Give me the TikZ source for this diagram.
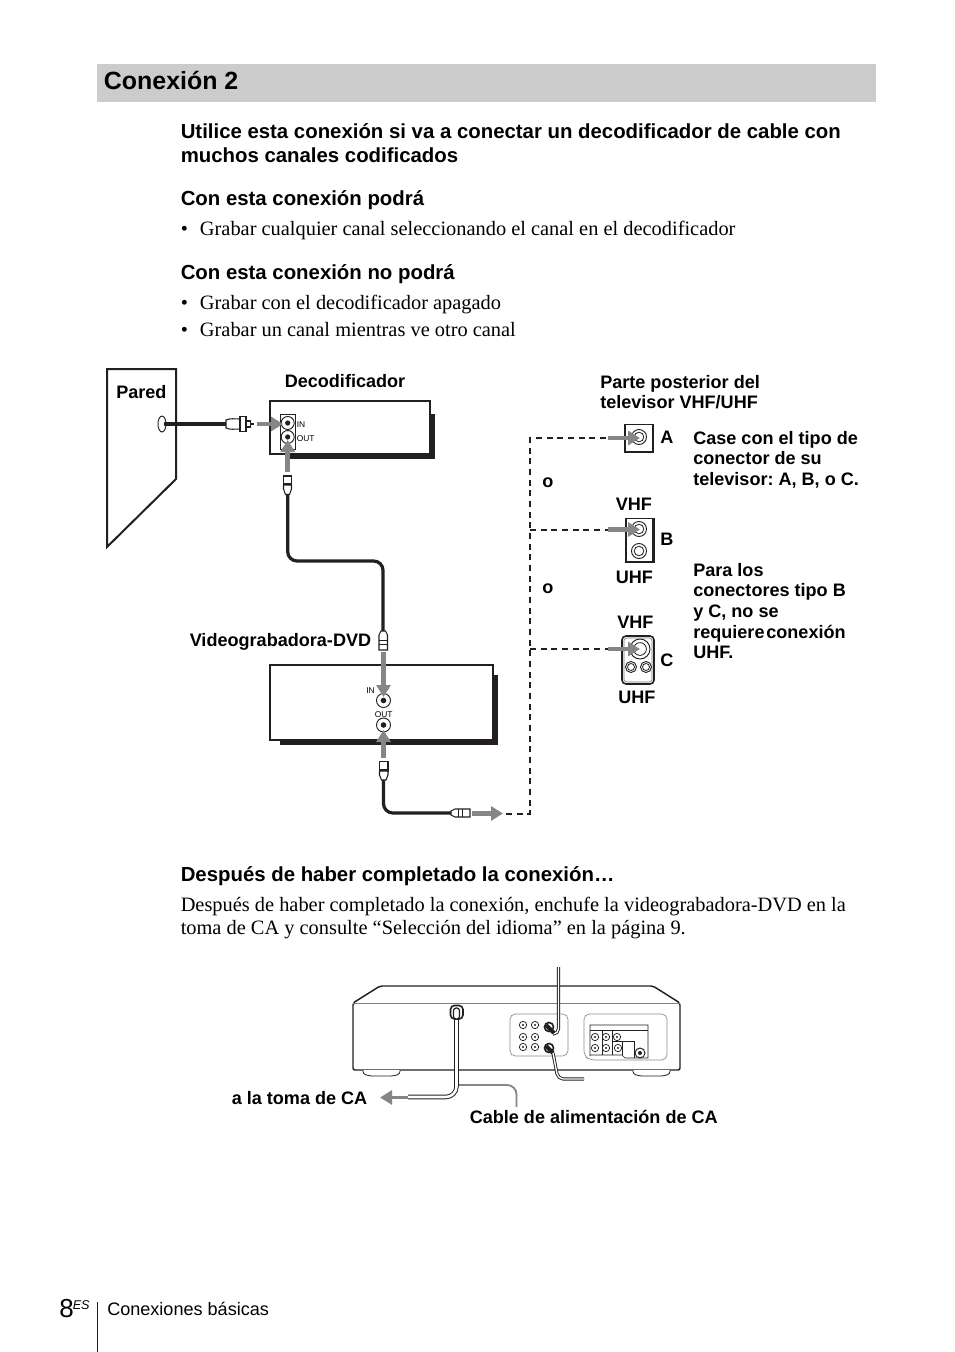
\documentclass[tikz,border=0pt]{standalone}
\usepackage{fontspec}
\setmainfont{Liberation Serif}
\setsansfont{Liberation Sans}
\usetikzlibrary{arrows.meta,shapes.geometric}
\definecolor{band}{HTML}{CCCCCC}
\definecolor{arrowgray}{HTML}{848688}
\definecolor{ink}{HTML}{231F20}
\tikzset{
 x=0.75pt,y=-0.75pt,
 txt/.style={inner sep=0pt,anchor=base west,text=black},
 sub/.style={txt,font=\fontsize{15.28}{16}\selectfont\sffamily\bfseries},
 body/.style={txt,font=\fontsize{15.29}{17}\selectfont\rmfamily},
 lab/.style={txt,font=\fontsize{13.55}{16}\selectfont\sffamily\bfseries},
 tinylab/.style={txt,font=\fontsize{6.3}{7}\selectfont\sffamily},
 foot/.style={txt,font=\fontsize{13.55}{16}\selectfont\sffamily},
 garrow/.style={draw=arrowgray,line width=3.6pt,-{Triangle[length=9pt,width=10.5pt,fill=arrowgray]},shorten >=0pt},
 cable/.style={draw=ink,line width=2.4pt,rounded corners=7pt},
 dashline/.style={draw=ink,line width=1.5pt,dash pattern=on 4.5pt off 3.5pt},
 boxline/.style={draw=ink,line width=1.5pt,fill=white},
 shadowfill/.style={fill=ink,draw=none},
 plug/.style={draw=ink,line width=0.8pt,fill=white},
 jackr/.style={draw=ink,line width=0.7pt,fill=white},
 pdiag/.style={draw=ink,line width=0.9pt,fill=white},
 thinpanel/.style={draw=black!45,line width=0.5pt,rounded corners=4pt},
 powercord/.style={draw=ink,line width=3.4pt,rounded corners=8pt},
 powercordin/.style={draw=white,line width=1.9pt,rounded corners=8pt},
 leader/.style={draw=arrowgray,line width=1.4pt,rounded corners=7pt},
 thincordout/.style={draw=ink,line width=2.4pt,rounded corners=4pt},
 thincordin/.style={draw=white,line width=1pt,rounded corners=4pt},
}
\newcommand{\Jack}[3]{% name, pos, radius
 \node[circle,jackr,minimum size=#3*1.5pt,inner sep=0pt] (#1) at #2 {};
 \fill[ink] (#1.center) circle (#3*0.3pt);
}
\newcommand{\Ring}[3]{%
 \node[circle,jackr,minimum size=#3*1.5pt,inner sep=0pt] (#1) at #2 {};
 \draw[ink,line width=0.6pt] (#1.center) circle (#3*0.48pt);
}
\newcommand{\SmallJack}[2]{%
 \node[circle,jackr,line width=0.55pt,minimum size=5.5pt,inner sep=0pt] (#1) at #2 {};
 \fill[ink] (#1.center) circle (0.8pt);
}
\begin{document}
\frenchspacing
\begin{tikzpicture}
\useasboundingbox[fill=white] (0,0) rectangle (954,1352);
% header
\fill[band] (97,64.5) rectangle (876,102);
\node[txt,font=\fontsize{18.7}{20}\selectfont\sffamily\bfseries] (title) at (103.7,89.7) {Conexión 2};
\node[sub] (t1) at (180.5,138.5) {Utilice esta conexión si va a conectar un decodificador de cable con};
\node[sub] (t2) at (180.5,162) {muchos canales codificados};
\node[sub] (t3) at (180.5,205) {Con esta conexión podrá};
\node[body] (b0) at (180.5,235) {•};
\node[body] (b1) at (199.7,235) {Grabar cualquier canal seleccionando el canal en el decodificador};
\node[sub] (t4) at (180.5,279) {Con esta conexión no podrá};
\node[body] (b2) at (180.5,309) {•};
\node[body] (b3) at (199.7,309) {Grabar con el decodificador apagado};
\node[body] (b4) at (180.5,336) {•};
\node[body] (b5) at (199.7,336) {Grabar un canal mientras ve otro canal};
% wall
\draw[pdiag,line width=1.5pt,draw=ink] (107,369) -- (176,369) -- (176,479) -- (107,547) -- cycle;
\node[lab] (pared) at (116,398) {Pared};
\node[draw=ink,line width=0.7pt,fill=white,ellipse,minimum width=6pt,minimum height=12pt,inner sep=0pt] (hole) at (162,424) {};
% decoder
\fill[shadowfill] (288,414) -- (435,414) -- (435,459) -- (288,459) -- cycle;
\node[boxline,minimum width=120pt,minimum height=39.5pt,inner sep=0pt] (dec) at (349.7,427.5) {};
\node[lab] (declab) at (284.5,387) {Decodificador};
\draw[draw=ink,line width=0.7pt,fill=white] (280.5,414) rectangle (295,449);
\Jack{decin}{(287.7,423)}{6.5}
\Jack{decout}{(287.7,437)}{6.5}
\node[tinylab] (dinl) at (296.5,427) {IN};
\node[tinylab] (doutl) at (296.5,441) {OUT};
% wall cable
\coordinate (cwall) at (164,424);
\coordinate (p1a) at (226,424);
\draw[draw=ink,line width=3pt] (cwall) -- (p1a);
\draw[plug] (226,420) .. controls (231,418) and (233,419) .. (240,419) -- (240,429) .. controls (233,429) and (231,430) .. (226,428) -- cycle;
\draw[plug] (240,416.5) rectangle (246,431.5);
\draw[plug] (246,421) rectangle (250.5,427);
\draw[ink,line width=0.9pt] (251,424) -- (254,424);
\coordinate (a1s) at (257,424); \coordinate (a1e) at (283,424);
\draw[garrow] (a1s) -- (a1e);
% decoder out arrow and plug
\coordinate (a2s) at (287.7,472); \coordinate (a2e) at (287.7,440);
\draw[garrow] (a2s) -- (a2e);
\draw[plug] (283.5,476) rectangle (291.5,485);
\draw[plug] (283.5,485) -- (291.5,485) -- (291.5,489) -- (289.5,494.5) -- (285.5,494.5) -- (283.5,489) -- cycle;
\draw[ink,line width=0.6pt] (283.5,483) -- (291.5,483);
\coordinate (c2a) at (287.7,495); \coordinate (c2b) at (287.7,561); \coordinate (c2c) at (383,561); \coordinate (c2d) at (383,631);
\draw[cable] (c2a) -- (c2b) -- (c2c) -- (c2d);
\draw[plug] (379,640) -- (379,635) -- (381,631) -- (385.5,631) -- (387.5,635) -- (387.5,640) -- (387.5,650) -- (379,650) -- cycle;
\draw[ink,line width=0.6pt] (379,640.5) -- (387.5,640.5) (379,644) -- (387.5,644);
\node[lab] (vcrlab) at (189.5,646.5) {Videograbadora-DVD};
% VCR
\fill[shadowfill] (280,675) -- (498,675) -- (498,745) -- (280,745) -- cycle;
\node[boxline,minimum width=167pt,minimum height=56pt,inner sep=0pt] (vcr) at (381.5,702.5) {};
\Jack{vin}{(383.5,700.5)}{7}
\Jack{vout}{(383.5,725)}{7}
\node[tinylab] (vinl) at (366,693.5) {IN};
\node[tinylab] (voutl) at (374.5,717) {OUT};
\coordinate (a3s) at (383.5,652); \coordinate (a3e) at (383.5,697);
\draw[garrow] (a3s) -- (a3e);
\coordinate (a4s) at (383.5,758); \coordinate (a4e) at (383.5,730);
\draw[garrow] (a4s) -- (a4e);
\draw[plug] (379.5,761.5) rectangle (388,771);
\draw[plug] (379.5,771) -- (388,771) -- (388,775) -- (386,780) -- (381.5,780) -- (379.5,775) -- cycle;
\draw[ink,line width=0.6pt] (379.5,769) -- (388,769);
\coordinate (c3a) at (383.5,780); \coordinate (c3b) at (383.5,813); \coordinate (c3c) at (451,813);
\draw[cable] (c3a) -- (c3b) -- (c3c);
\draw[plug] (451,811) -- (455,809) -- (470,809) -- (470,817) -- (455,817) -- (451,815) -- cycle;
\draw[ink,line width=0.6pt] (458,809) -- (458,817) (462,809) -- (462,817);
\coordinate (a5s) at (472,813.5); \coordinate (a5e) at (503,813.5);
\draw[garrow] (a5s) -- (a5e);
% dashed
\coordinate (dA) at (608,438); \coordinate (dB) at (608,529.5); \coordinate (dC) at (608,649);
\coordinate (tr) at (530,438); \coordinate (br) at (530,813.5); \coordinate (ds) at (506,813.5);
\coordinate (jB) at (530,529.5); \coordinate (jC) at (530,649);
\draw[dashline] (ds) -- (br) -- (tr) -- (dA);
\draw[dashline] (jB) -- (dB);
\draw[dashline] (jC) -- (dC);
% A
\draw[draw=ink,line width=1pt,fill=white] (625,424.5) rectangle (653,452);
\Ring{ja}{(639,437)}{7.5}
% B
\fill[ink] (630,518) rectangle (655,563);
\draw[draw=ink,line width=0.8pt,fill=white] (626,518.5) rectangle (653,562);
\Ring{jb1}{(639,529)}{7.5}
\Ring{jb2}{(639,551)}{7.5}
% C
\draw[draw=ink,line width=1.2pt,fill=white,rounded corners=3pt] (622,636) rectangle (654,684);
\draw[black!55,line width=0.4pt,rounded corners=2pt] (624,638) rectangle (652,682);
\Ring{jc1}{(640,649)}{10}
\Ring{jc2}{(631,667)}{5.5}
\Ring{jc3}{(646,667)}{5.5}
\coordinate (aAs) at (608,438); \coordinate (aAe) at (640,438);
\coordinate (aBs) at (608,529.5); \coordinate (aBe) at (640,529.5);
\coordinate (aCs) at (608,649); \coordinate (aCe) at (640,649);
\draw[garrow] (aAs) -- (aAe);
\draw[garrow] (aBs) -- (aBe);
\draw[garrow] (aCs) -- (aCe);
% diagram labels
\node[lab] (pp1) at (600,388) {Parte posterior del};
\node[lab] (pp2) at (600,408) {televisor VHF/UHF};
\node[lab] (la) at (660,443) {A};
\node[lab] (lb) at (660,545) {B};
\node[lab] (lc) at (660,666) {C};
\node[lab] (o1) at (542,487) {o};
\node[lab] (o2) at (542,593) {o};
\node[lab] (v1) at (615.5,510) {VHF};
\node[lab] (u1) at (615.5,583) {UHF};
\node[lab] (v2) at (617,628) {VHF};
\node[lab] (u2) at (618,703) {UHF};
\node[lab] (n1) at (693,444) {Case con el tipo de};
\node[lab] (n2) at (693,464) {conector de su};
\node[lab] (n3) at (693,485) {televisor: A, B, o C.};
\node[lab] (n4) at (693,576) {Para los};
\node[lab] (n5) at (693,596) {conectores tipo B};
\node[lab] (n6) at (693,617) {y C, no se};
\node[lab] (n7) at (693,638) {requiere\hspace{0.1em}conexión};
\node[lab] (n8) at (693,658) {UHF.};
% after
\node[sub] (t5) at (180.5,881.5) {Después de haber completado la conexión…};
\node[body] (b6) at (180.5,911) {Después de haber completado la conexión, enchufe la videograbadora-DVD en la};
\node[body] (b7) at (180.5,934.5) {toma de CA y consulte “Selección del idioma” en la página 9.};
% rear VCR
\draw[draw=ink,line width=1.1pt,fill=white,rounded corners=1.5pt] (353,1003) -- (380,986) -- (653,986) -- (680,1003) -- (680,1070) -- (353,1070) -- cycle;
\draw[black!50,line width=0.5pt] (353,1003) -- (680,1003);
\draw[draw=ink,line width=0.6pt,fill=white,rounded corners=2pt] (363,1070) -- (363,1074) -- (370,1076) -- (393,1076) -- (400,1074) -- (400,1070);
\draw[draw=ink,line width=0.6pt,fill=white,rounded corners=2pt] (633,1070) -- (633,1074) -- (640,1076) -- (663,1076) -- (670,1074) -- (670,1070);
\draw[thinpanel] (510,1014) -- (568,1014) -- (568,1056) -- (510,1056) -- cycle;
\foreach \n/\px/\py in {a/523/1025,b/535/1025,c/523/1037,d/535/1037,e/523/1047,f/535/1047}{\SmallJack{l\n}{(\px,\py)}}
\draw[thinpanel] (584,1014) -- (667,1014) -- (667,1060) -- (590,1060) -- (584,1056) -- cycle;
\draw[ink,line width=0.45pt] (590,1056) -- (590,1025) -- (648,1025) -- (648,1058) -- (625,1058) -- (622,1055) -- (590,1055);
\draw[ink,line width=0.45pt] (590,1030) -- (648,1030) (602,1030) -- (602,1055) (612.5,1030) -- (612.5,1055) (622,1041) -- (622,1055);
\draw[ink,line width=0.45pt] (612.5,1041) -- (634.5,1041) -- (634.5,1058);
\foreach \n/\px/\py in {a/595/1037,b/606/1037,c/617/1037,d/595/1048,e/606/1048,f/618/1048}{\SmallJack{r\n}{(\px,\py)}}
\Jack{rg}{(640,1053)}{5}
% cords
\coordinate (pw1) at (456.5,1016); \coordinate (pw2) at (456.5,1097); \coordinate (pw3) at (408,1097);
\draw[powercord] (pw1) -- (pw2) -- (pw3);
\draw[powercordin] (pw1) -- (pw2) -- (pw3);
\draw[draw=ink,line width=1.2pt,fill=white,rounded corners=3pt] (450.5,1005.5) rectangle (463,1019);
\draw[draw=ink,line width=0.9pt,fill=white,rounded corners=2pt] (453.5,1008) rectangle (459.5,1019);
\coordinate (ar1) at (408,1097.5); \coordinate (ar2) at (380,1097.5);
\draw[garrow,line width=2.8pt] (ar1) -- (ar2);
\coordinate (ld1) at (459,1085); \coordinate (ld2) at (516.5,1085); \coordinate (ld3) at (516.5,1107);
\draw[leader] (ld1) -- (ld2) -- (ld3);
\node[lab] (ca1) at (231.5,1104) {a la toma de CA};
\node[lab] (ca2) at (469.5,1123) {Cable de alimentación de CA};
% antenna cables
\coordinate (an1) at (558.5,967); \coordinate (an2) at (558.5,1034); \coordinate (an3) at (553,1034);
\draw[thincordout] (an1) -- (an2) -- (an3);
\draw[thincordin] (an1) -- (an2) -- (an3);
\draw[draw=ink,line width=1.2pt,fill=white] (549,1027) circle (3.4pt);
\draw[draw=ink,line width=3pt] (546,1025) -- (554,1033);
\draw[draw=ink,line width=1.2pt,fill=white] (549,1048) circle (3.4pt);
\draw[draw=ink,line width=3pt] (546,1046) -- (553,1053);
\coordinate (bn1) at (553,1053); \coordinate (bn2) at (558,1079); \coordinate (bn3) at (584,1079);
\draw[thincordout] (bn1) -- (bn2) -- (bn3);
\draw[thincordin] (bn1) -- (bn2) -- (bn3);
% footer
\draw[draw=ink,line width=0.5pt] (97,1302) -- (97,1352);
\node[txt,font=\fontsize{19.5}{20}\selectfont\sffamily] (pg) at (59,1317) {8};
\node[txt,font=\fontsize{9.5}{10}\selectfont\sffamily\itshape] (es) at (72.5,1309) {ES};
\node[foot] (sect) at (107,1315) {Conexiones básicas};
\end{tikzpicture}
\end{document}
